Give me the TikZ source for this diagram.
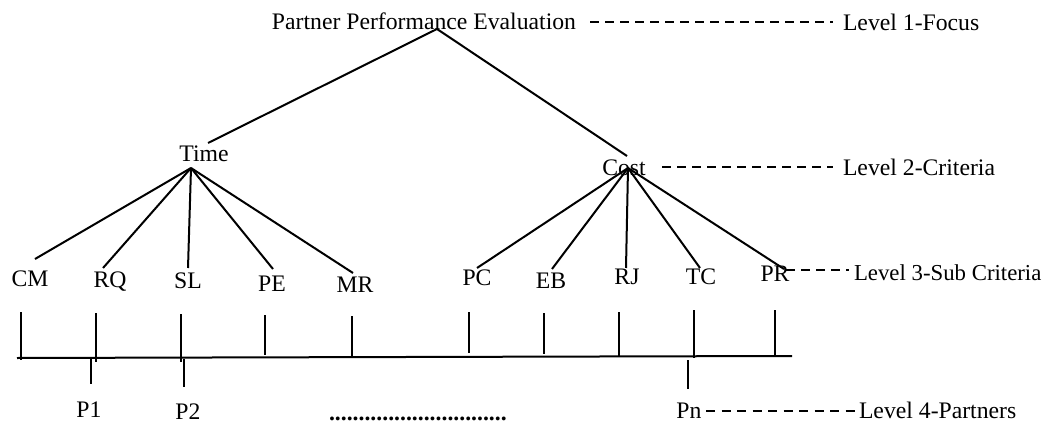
\documentclass[tikz,border=0pt]{standalone}
\usepackage{fontspec}
\setmainfont{Liberation Serif}

\begin{document}
\begin{tikzpicture}[x=0.5pt,y=-0.5pt,line width=1pt,
	lbl/.style={inner sep=0pt,anchor=base,font=\fontsize{11.85}{14}\selectfont},
	lvl/.style={lbl,anchor=base west},
	lvldash/.style={line width=1.25pt,dash pattern=on 4.5pt off 3pt}]
		\useasboundingbox (0,0) rectangle (1047,427);
		
		%focus
		\node[lbl] (goal) at (424,30) {Partner Performance Evaluation};
		\coordinate (apex) at (437,29);
		
		%criteria
		\node[lbl] (time) at (204,162) {Time};
		\node[lbl] (cost) at (624,176) {Cost};
		\coordinate (time-top) at (208,143);
		\coordinate (cost-top) at (627,156);
		\coordinate (time-j) at (191,168);
		\coordinate (cost-j) at (628,168);
		\draw (apex) -- (time-top);
		\draw (apex) -- (cost-top);
		
		%sub criteria
		\node[lbl] (cm) at (30,286) {CM};
		\node[lbl] (rq) at (110,287) {RQ};
		\node[lbl] (sl) at (188,288) {SL};
		\node[lbl] (pe) at (272,291) {PE};
		\node[lbl] (mr) at (355,292) {MR};
		\node[lbl] (pc) at (477,285) {PC};
		\node[lbl] (eb) at (551,288) {EB};
		\node[lbl] (rj) at (627,284) {RJ};
		\node[lbl] (tc) at (701,284) {TC};
		\node[lbl] (pr) at (775,281) {PR};
		
		\coordinate (cm-top) at (35,259);
		\coordinate (rq-top) at (103,268);
		\coordinate (sl-top) at (188,268);
		\coordinate (pe-top) at (273,269);
		\coordinate (mr-top) at (353,273);
		\coordinate (pc-top) at (477,268);
		\coordinate (eb-top) at (552,269);
		\coordinate (rj-top) at (626,268);
		\coordinate (tc-top) at (700,268);
		\coordinate (pr-top) at (784,269);
		
		\draw (time-j) -- (cm-top);
		\draw (time-j) -- (rq-top);
		\draw (time-j) -- (sl-top);
		\draw (time-j) -- (pe-top);
		\draw (time-j) -- (mr-top);
		\draw (cost-j) -- (pc-top);
		\draw (cost-j) -- (eb-top);
		\draw (cost-j) -- (rj-top);
		\draw (cost-j) -- (tc-top);
		\draw (cost-j) -- (pr-top);
		
		%scale
		\draw (17,358) -- (792,356);
		\draw (21,312) -- (21,360);
		\draw (96,313) -- (96,362);
		\draw (181,314) -- (181,362);
		\draw (265,315) -- (265,355);
		\draw (352,316) -- (352,358);
		\draw (469,312) -- (469,353);
		\draw (544,313) -- (544,354);
		\draw (619,312) -- (619,356);
		\draw (694,310) -- (694,358);
		\draw (775,310) -- (775,356);
		
		%partners
		\draw (91,359) -- (91,384);
		\draw (184,359) -- (184,387);
		\draw (688,360) -- (688,389);
		\node[lbl] (p1) at (89,417) {P1};
		\node[lbl] (p2) at (188,419) {P2};
		\node[lbl] (pn) at (689,418) {Pn};
		\node[lbl,anchor=base west] (dots) at (328,420) {\textbf{..............................}};
		
		%levels
		\node[lvl] (lvl1) at (842,31) {Level 1-Focus};
		\node[lvl] (lvl2) at (842,176) {Level 2-Criteria};
		\node[lvl,font=\fontsize{11.4}{14}\selectfont] (lvl3) at (853,280) {Level 3-Sub Criteria};
		\node[lvl] (lvl4) at (858,418) {Level 4-Partners};
		
		\coordinate (l1-a) at (590,22);
		\coordinate (l1-b) at (833,22);
		\coordinate (l2-a) at (662,167);
		\coordinate (l2-b) at (833,167);
		\coordinate (l3-a) at (786,270);
		\coordinate (l3-b) at (849,270);
		\coordinate (l4-a) at (706,411);
		\coordinate (l4-b) at (855,411);
		\draw[lvldash] (l1-a) -- (l1-b);
		\draw[lvldash] (l2-a) -- (l2-b);
		\draw[lvldash] (l3-a) -- (l3-b);
		\draw[lvldash,dash pattern=on 4.5pt off 3.25pt] (l4-a) -- (l4-b);
		
\end{tikzpicture}
\end{document}
